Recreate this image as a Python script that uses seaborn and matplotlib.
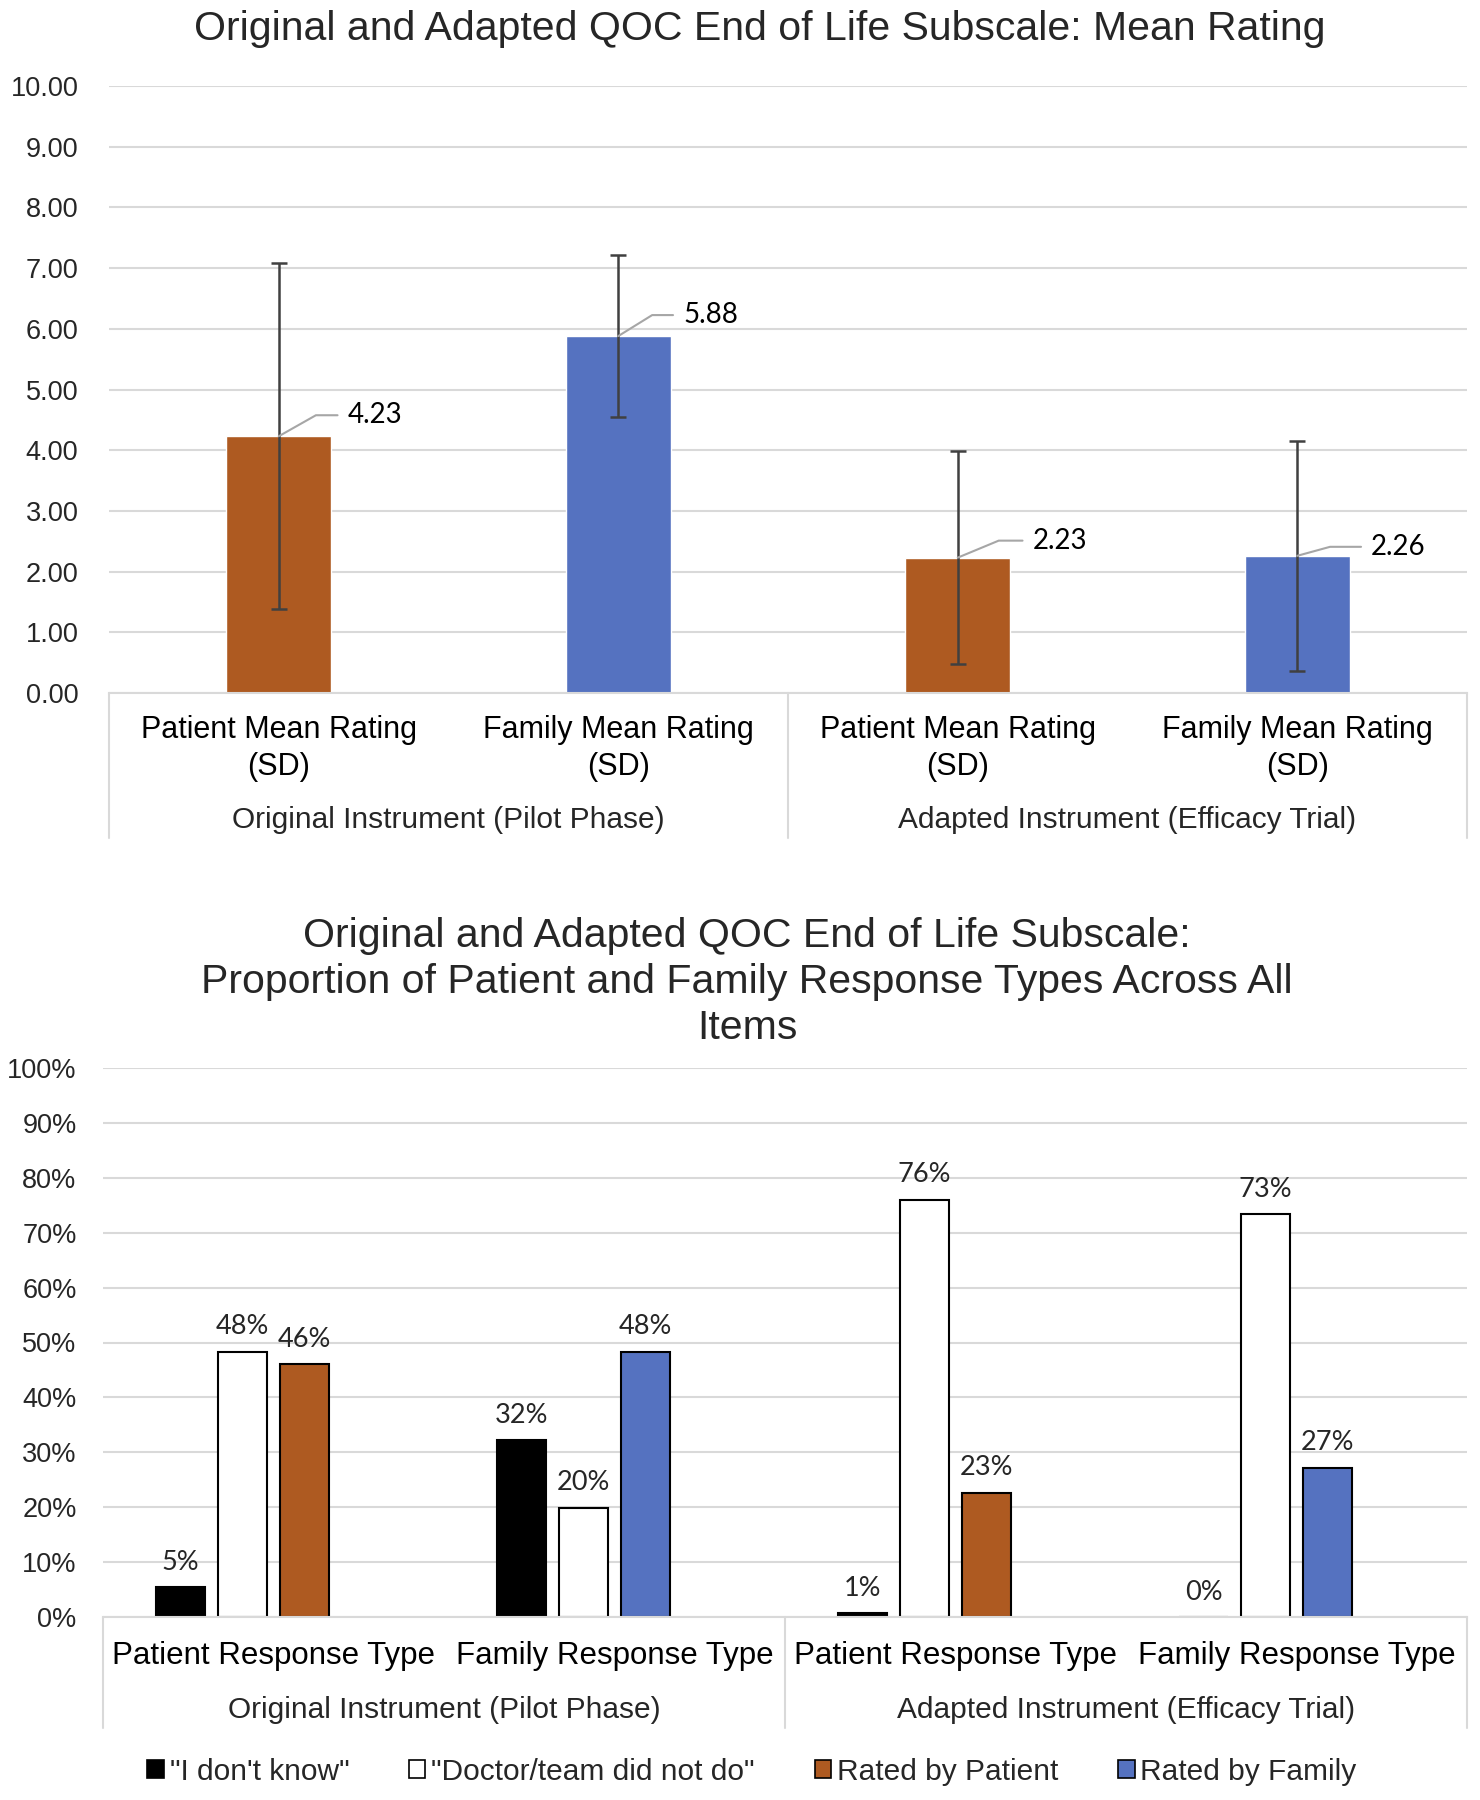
import numpy as np
import pandas as pd
import matplotlib
matplotlib.use("Agg")
import matplotlib.pyplot as plt
import matplotlib.transforms as mtrans
from matplotlib.patches import Patch
import seaborn as sns

# ---- data: top chart (mean rating, SD) ----
mean_cats = ["orig_patient", "orig_family", "adapt_patient", "adapt_family"]
mean_ticklabels = ["Patient Mean Rating\n(SD)", "Family Mean Rating\n(SD)",
                   "Patient Mean Rating\n(SD)", "Family Mean Rating\n(SD)"]
mean_values = [4.23, 5.88, 2.23, 2.26]
mean_sd = [2.85, 1.34, 1.75, 1.89]
phase_labels = ["Original Instrument (Pilot Phase)",
                "Adapted Instrument (Efficacy Trial)"]

# ---- data: bottom chart (response type proportions) ----
resp_cats = ["orig_patient", "orig_family", "adapt_patient", "adapt_family"]
resp_ticklabels = ["Patient Response Type", "Family Response Type",
                   "Patient Response Type", "Family Response Type"]
dont_know = [0.054, 0.322, 0.007, 0.0]
did_not_do = [0.483, 0.199, 0.76, 0.734]
rated = [0.46, 0.483, 0.226, 0.272]
legend_labels = ['"I don\'t know"', '"Doctor/team did not do"',
                 "Rated by Patient", "Rated by Family"]

ORANGE = "#AE5A21"
BLUE = "#5572C0"
GRID = "#D9D9D9"
TXT = "#262626"

sns.set_style("white")
plt.rcParams["font.family"] = ["Liberation Sans", "DejaVu Sans"]
NUMFONT = ["Lato", "DejaVu Sans"]

W, H = 1480, 1800
fig = plt.figure(figsize=(W / 100, H / 100), dpi=100)


def style_axis(ax, sep_bottom, pad_y):
    for s in ["top", "right", "left"]:
        ax.spines[s].set_visible(False)
    ax.spines["bottom"].set_color(GRID)
    ax.spines["bottom"].set_linewidth(1.5)
    ax.yaxis.grid(True, color=GRID, lw=1.5)
    ax.set_axisbelow(True)
    ax.tick_params(axis="y", length=0, pad=pad_y, labelsize=19.5, labelcolor=TXT)
    ax.tick_params(axis="x", length=0, labelsize=22, labelcolor="black")
    ax.set_xlim(-0.5, 3.5)
    ax.set(xlabel=None, ylabel=None)
    blend = mtrans.blended_transform_factory(ax.transData, ax.transAxes)
    for x in [-0.5, 1.5, 3.5]:
        ax.plot([x, x], [0, sep_bottom], transform=blend, color=GRID,
                lw=1.5, clip_on=False)
    return blend


# ================= top chart =================
ax1 = fig.add_axes([109 / W, 1 - 693 / H, (1467 - 109) / W, (693 - 86) / H])
df1 = pd.DataFrame({"cat": mean_cats, "value": mean_values})
sns.barplot(df1, x="cat", y="value", hue="cat",
            palette=[ORANGE, BLUE, ORANGE, BLUE], width=0.31, dodge=False,
            saturation=1, legend=False, ax=ax1)
ax1.errorbar(range(len(mean_values)), mean_values, yerr=mean_sd, fmt="none",
             ecolor="#404040", elinewidth=1.8, capsize=6, capthick=1.8)
ax1.set_ylim(0, 10)
ax1.set_yticks(np.arange(0, 10.01, 1))
ax1.set_yticklabels([f"{t:.2f}" for t in np.arange(0, 10.01, 1)])
blend1 = style_axis(ax1, -0.239, 22)
ax1.set_xticks(range(4))
ax1.set_xticklabels(mean_ticklabels, linespacing=1.3)
ax1.tick_params(axis="x", pad=16)
for i, lab in enumerate(phase_labels):
    ax1.text(0.5 + 2 * i, -0.209, lab, transform=blend1, ha="center",
             va="center", fontsize=21.5)

# leader-line labels (diagonal dx, dy, horizontal length) in pixels
leaders = [(46, 26, 16), (42, 26, 16), (53, 22, 15), (51, 14, 16)]
for i, (v, (dx, dy, hl)) in enumerate(zip(mean_values, leaders)):
    ang = np.degrees(np.arctan2(dy, dx))
    ax1.annotate(f"{v:.2f}", xy=(i, v), xytext=(dx + hl + 7, dy - 5),
                 textcoords="offset pixels", ha="left", va="center",
                 fontsize=20, family=NUMFONT, color="black",
                 arrowprops=dict(arrowstyle="-", color="#A6A6A6", lw=1.5,
                                 shrinkA=5, shrinkB=0, relpos=(0, 0.5),
                                 connectionstyle=f"angle,angleA=0,angleB={ang},rad=0"))

fig.text(760 / W, 1 - 29 / H,
         "Original and Adapted QOC End of Life Subscale: Mean Rating",
         ha="center", va="center", fontsize=29.5)

# ================= bottom chart =================
ax2 = fig.add_axes([103 / W, 1 - 1617 / H, (1467 - 103) / W, (1617 - 1068) / H])
kinds = ["dont_know", "did_not_do", "rated", "blank"]
df2 = pd.DataFrame({
    "cat": resp_cats * 3,
    "share": dont_know + did_not_do + rated,
    "kind": ["dont_know"] * 4 + ["did_not_do"] * 4 + ["rated"] * 4,
})
sns.barplot(df2, x="cat", y="share", hue="kind", hue_order=kinds,
            palette=["black", "white", ORANGE, "white"], width=0.727, gap=0.2,
            edgecolor="black", linewidth=1.5, saturation=1, legend=False, ax=ax2)
rated_colors = [ORANGE, BLUE, ORANGE, BLUE]
bar_conts = [c for c in ax2.containers if len(c) > 0]
for patch, col in zip(bar_conts[2], rated_colors):
    patch.set_facecolor(col)
for cont in bar_conts[:3]:
    ax2.bar_label(cont, labels=[f"{p.get_height():.0%}" for p in cont],
                  padding=9, fontsize=19.5, family=NUMFONT)
ax2.set_ylim(0, 1)
ticks = np.arange(0, 1.001, 0.1)
ax2.set_yticks(ticks)
ax2.set_yticklabels([f"{t:.0%}" for t in ticks])
blend2 = style_axis(ax2, -0.202, 19)
ax2.set_xticks(range(4))
ax2.set_xticklabels(resp_ticklabels)
ax2.tick_params(axis="x", labelsize=22.5, pad=17)
for i, lab in enumerate(phase_labels):
    ax2.text(0.5 + 2 * i, -0.1694, lab, transform=blend2, ha="center",
             va="center", fontsize=21.5)

fig.text(747 / W, 1 - 982 / H,
         "Original and Adapted QOC End of Life Subscale:\n"
         "Proportion of Patient and Family Response Types Across All\nItems",
         ha="center", va="center", fontsize=29.5, linespacing=1.28)

handles = [Patch(facecolor=c, edgecolor="black", lw=1.2)
           for c in ["black", "white", ORANGE, BLUE]]
fig.legend(handles=handles, labels=legend_labels, loc="center",
           bbox_to_anchor=(752 / W, 1 - 1772 / H), ncol=4, frameon=False,
           handlelength=0.55, handleheight=0.55, handletextpad=0.2,
           columnspacing=2.0, fontsize=21.5)

fig.savefig("out.png", dpi=100)
